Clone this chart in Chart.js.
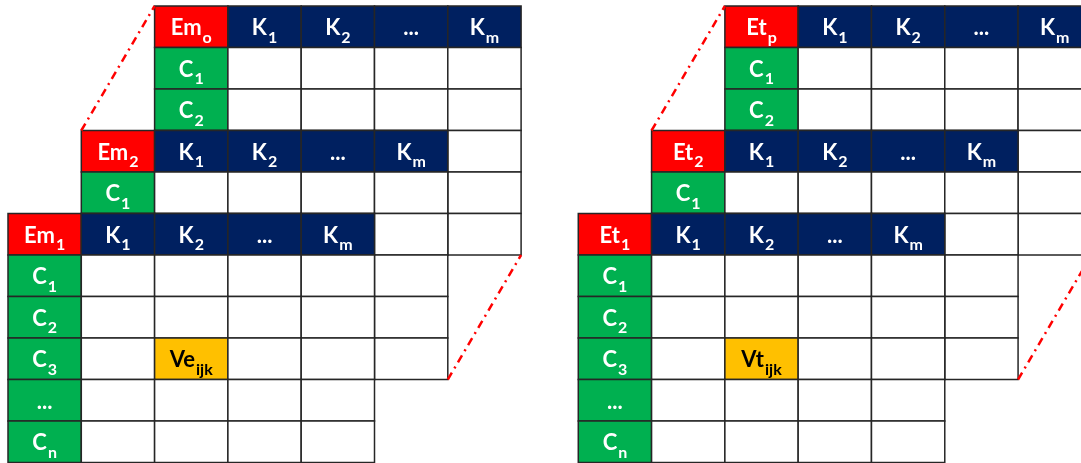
<!DOCTYPE html>
<html><head><meta charset="utf-8">
<script src="https://cdn.jsdelivr.net/npm/chart.js@4.4.1/dist/chart.umd.min.js"></script>
<style>html,body{margin:0;padding:0;background:#fff;overflow:hidden}#wrap{width:1081px;height:463px;position:relative}</style>
</head><body><div id="wrap"><canvas id="c"></canvas></div>
<script>
// ---- data ----
const panelNames = ['Em', 'Et'];
const layerSubs = [['1', '2', 'o'], ['1', '2', 'p']];   // front -> back
const colLabels = [['K', '1'], ['K', '2'], ['...', ''], ['K', 'm']];
const rowLabels = [['C', '1'], ['C', '2'], ['C', '3'], ['...', ''], ['C', 'n']];
const valueLabels = [['Ve', 'ijk'], ['Vt', 'ijk']];
const valueRow = 2;   // C3
const valueCol = 1;   // K2

// ---- layout (in cell units) ----
const COLW = 73.3, ROWH = 41.5, X0 = 8, Y0 = 6, W = 1081, H = 463;
const panelX = [0, 7.78];
const layerPos = [[0, 5], [1, 3], [2, 0]];
const NCOLS = colLabels.length + 1, NROWS = rowLabels.length + 1;

const COLORS = { name: '#FF0000', head: '#002060', row: '#00B050', value: '#FFC000', cell: '#FFFFFF', line: '#262626' };
const FONT_FAMILY = 'Lato';
const MAIN_PX = 22, SUB_PX = 16;

// connector line datasets
const datasets = [];
panelNames.forEach((_, p) => {
  const a = layerPos[1], b = layerPos[2];
  datasets.push({ data: [{ x: panelX[p] + a[0], y: a[1] }, { x: panelX[p] + b[0], y: b[1] }] });
  datasets.push({ data: [{ x: panelX[p] + a[0] + NCOLS, y: a[1] + NROWS }, { x: panelX[p] + b[0] + NCOLS, y: b[1] + NROWS }] });
});
datasets.forEach(d => Object.assign(d, {
  showLine: true, borderColor: '#FF0000', borderWidth: 2.5, borderDash: [8, 5, 2, 5],
  pointRadius: 0, pointHoverRadius: 0, fill: false
}));

function drawLabel(ctx, lab, cx, top, h, color) {
  const [main, sub] = lab;
  const fMain = Chart.helpers.toFont({ family: FONT_FAMILY, size: MAIN_PX, weight: 'bold' }).string;
  const fSub = Chart.helpers.toFont({ family: FONT_FAMILY, size: SUB_PX, weight: 'bold' }).string;
  ctx.fillStyle = color;
  ctx.textBaseline = 'alphabetic';
  ctx.textAlign = 'left';
  ctx.font = fMain; const wm = ctx.measureText(main).width;
  ctx.font = fSub; const ws = sub ? ctx.measureText(sub).width + 1 : 0;
  const x = cx - (wm + ws) / 2;
  ctx.font = fMain; ctx.fillText(main, x, top + 0.71 * h);
  if (sub) { ctx.font = fSub; ctx.fillText(sub, x + wm + 1, top + 0.89 * h); }
}

const tablesPlugin = {
  id: 'tables',
  beforeDatasetsDraw(chart) {
    const ctx = chart.ctx, xs = chart.scales.x, ys = chart.scales.y;
    ctx.save();
    panelNames.forEach((name, p) => {
      for (let L = layerPos.length - 1; L >= 0; L--) {
        const ox = panelX[p] + layerPos[L][0], oy = layerPos[L][1];
        for (let r = 0; r < NROWS; r++) {
          for (let c = 0; c < NCOLS; c++) {
            const x1 = xs.getPixelForValue(ox + c), x2 = xs.getPixelForValue(ox + c + 1);
            const y1 = ys.getPixelForValue(oy + r), y2 = ys.getPixelForValue(oy + r + 1);
            let fill = COLORS.cell, lab = null, tc = '#FFFFFF';
            if (r === 0 && c === 0) { fill = COLORS.name; lab = [name, layerSubs[p][L]]; }
            else if (r === 0) { fill = COLORS.head; lab = colLabels[c - 1]; }
            else if (c === 0) { fill = COLORS.row; lab = rowLabels[r - 1]; }
            else if (L === 0 && r - 1 === valueRow && c - 1 === valueCol) { fill = COLORS.value; lab = valueLabels[p]; tc = '#000000'; }
            ctx.fillStyle = fill;
            ctx.fillRect(x1, y1, x2 - x1, y2 - y1);
            ctx.strokeStyle = COLORS.line; ctx.lineWidth = 1.5;
            ctx.strokeRect(x1, y1, x2 - x1, y2 - y1);
            if (lab) drawLabel(ctx, lab, (x1 + x2) / 2, y1, y2 - y1, tc);
          }
        }
      }
    });
    ctx.restore();
  }
};

new Chart(document.getElementById('c'), {
  type: 'scatter',
  data: { datasets },
  options: {
    responsive: true, maintainAspectRatio: false, animation: false,
    layout: { padding: 0 },
    plugins: { legend: { display: false }, tooltip: { enabled: false }, title: { display: false } },
    events: [],
    scales: {
      x: { type: 'linear', display: false, min: -X0 / COLW, max: (W - X0) / COLW },
      y: { type: 'linear', display: false, reverse: true, min: -Y0 / ROWH, max: (H - Y0) / ROWH }
    }
  },
  plugins: [tablesPlugin]
});
</script>
</body></html>
